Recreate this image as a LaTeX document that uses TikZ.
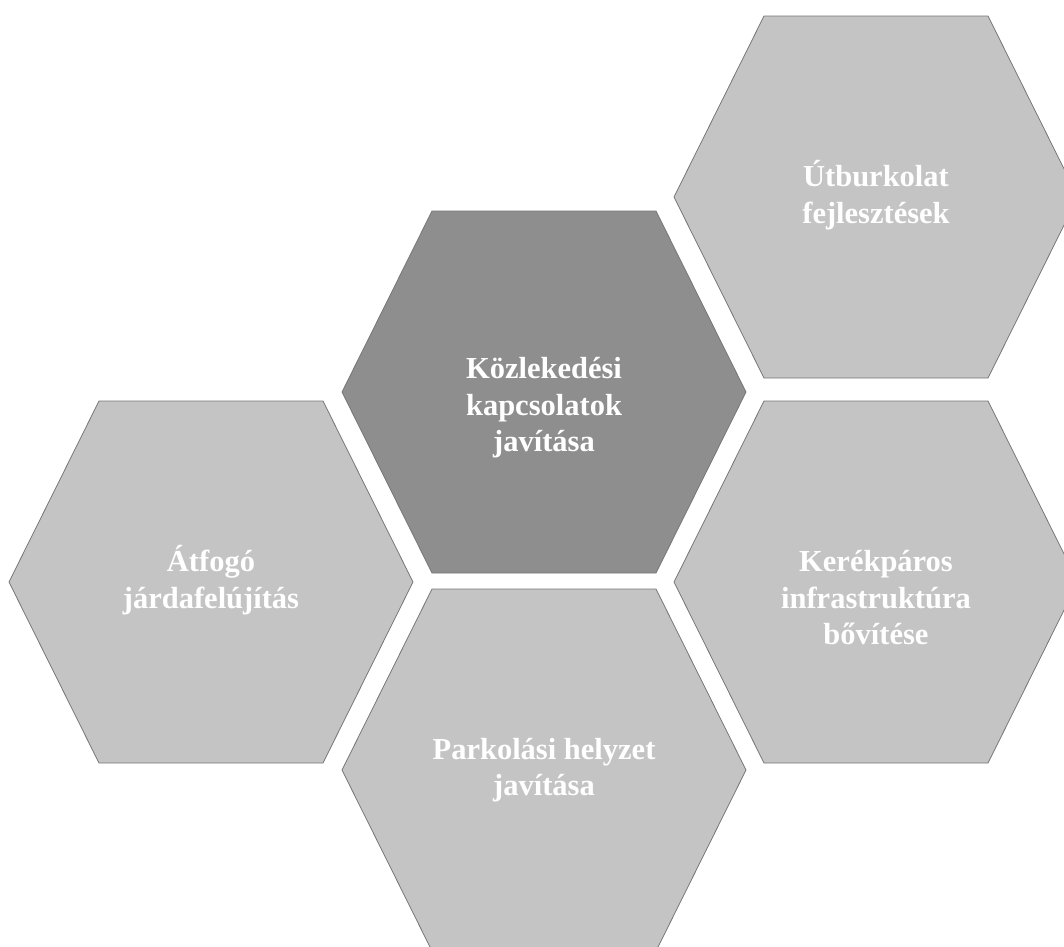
\documentclass[tikz,border=0pt]{standalone}
\usepackage{fontspec}
\setmainfont{Liberation Serif}
\usetikzlibrary{calc}
\definecolor{hexlight}{HTML}{C4C4C4}
\definecolor{hexdark}{HTML}{8E8E8E}
\definecolor{hexline}{HTML}{777777}

\begin{document}
\begin{tikzpicture}[x=1pt,y=-1pt,
    hexlabel/.style={text=white, font=\bfseries\fontsize{30.5}{36.5}\selectfont, align=center}]
    \clip (0,0) rectangle (1064,946);

    \coordinate (K) at (544,392);
    \coordinate (U) at (876,197);
    \coordinate (A) at (211,582);
    \coordinate (R) at (876,582);
    \coordinate (P) at (544,770);

    % Hexagons
    \foreach \c/\col in {K/hexdark, U/hexlight, A/hexlight, R/hexlight, P/hexlight}{
        \begin{scope}[shift={(\c)}]
            \filldraw[fill=\col, draw=hexline, line width=0.8pt]
                (-202,0) -- (-112,-181) -- (112,-181) -- (202,0) -- (112,181) -- (-112,181) -- cycle;
        \end{scope}
    }

    % Labels
    \node[hexlabel, yshift=-16] (kozl) at (K) {Közlekedési\\kapcsolatok\\javítása};
    \node[hexlabel, yshift=2] (ut) at (U) {Útburkolat\\fejlesztések};
    \node[hexlabel, yshift=2] (jarda) at (A) {Átfogó\\járdafelújítás};
    \node[hexlabel, yshift=-16] (kerek) at (R) {Kerékpáros\\infrastruktúra\\bővítése};
    \node[hexlabel] (park) at (P) {Parkolási helyzet\\javítása};

\end{tikzpicture}
\end{document}
